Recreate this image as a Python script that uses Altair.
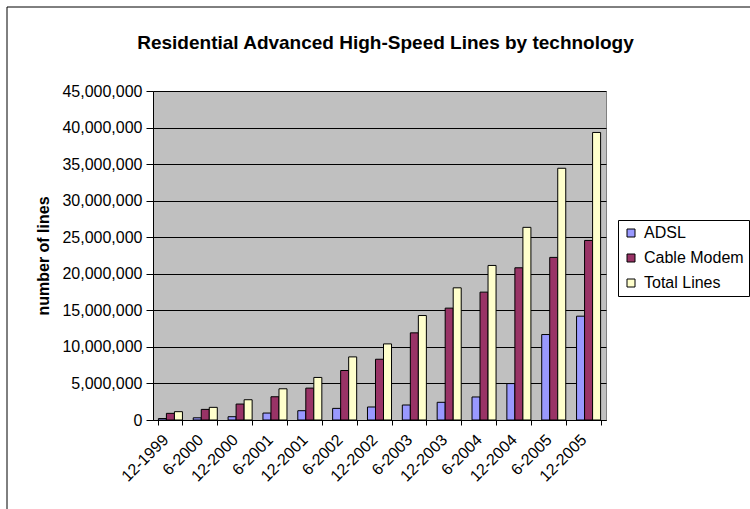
import altair as alt
import pandas as pd

periods = ["12-1999", "6-2000", "12-2000", "6-2001", "12-2001", "6-2002", "12-2002",
           "6-2003", "12-2003", "6-2004", "12-2004", "6-2005", "12-2005"]
series_names = ["ADSL", "Cable Modem", "Total Lines"]
adsl = [200000, 300000, 450000, 950000, 1270000, 1590000, 1780000,
        2050000, 2420000, 3150000, 4980000, 11690000, 14200000]
cable = [910000, 1450000, 2180000, 3180000, 4360000, 6770000, 8310000,
         11920000, 15300000, 17490000, 20820000, 22240000, 24560000]
total = [1140000, 1730000, 2770000, 4270000, 5820000, 8630000, 10410000,
         14290000, 18080000, 21140000, 26350000, 34430000, 39330000]
colors = ["#9999FF", "#993366", "#FFFFCC"]
y_ticks = [0, 5000000, 10000000, 15000000, 20000000, 25000000, 30000000,
           35000000, 40000000, 45000000]

rows = []
for name, vals in zip(series_names, [adsl, cable, total]):
    for p, v in zip(periods, vals):
        rows.append({"period": p, "series": name, "lines": v})
df = pd.DataFrame(rows)

FONT = "Liberation Sans"

bars = alt.Chart(df).mark_bar(stroke="black", strokeWidth=1).encode(
    x=alt.X("period:N", sort=periods,
            scale=alt.Scale(paddingInner=0.31, paddingOuter=0.155),
            axis=alt.Axis(title=None, labelAngle=-45, labelFontSize=16, labelFont=FONT,
                          labelColor="black", labelAlign="right", labelBaseline="middle",
                          tickBand="extent", tickSize=5, labelOffset=-5,
                          tickColor="black", domainColor="black", labelPadding=12,
                          grid=False)),
    xOffset=alt.XOffset("series:N", sort=series_names,
                        scale=alt.Scale(paddingInner=0, paddingOuter=0)),
    y=alt.Y("lines:Q", scale=alt.Scale(domain=[0, 45000000], nice=False),
            axis=alt.Axis(title="number of lines", values=y_ticks, format=",d",
                          labelFontSize=16, labelFont=FONT, labelColor="black",
                          titleFont=FONT, titleFontSize=16, titleFontWeight="bold",
                          titleColor="black", titlePadding=10,
                          tickSize=7, tickColor="black", domainColor="black",
                          labelPadding=4, gridColor="black", gridOpacity=1,
                          gridWidth=1)),
    color=alt.Color("series:N", sort=series_names,
                    scale=alt.Scale(domain=series_names, range=colors),
                    legend=alt.Legend(title=None, orient="none", legendX=465, legendY=129,
                                      symbolType="square", symbolSize=64,
                                      symbolStrokeColor="black", symbolStrokeWidth=1,
                                      labelFontSize=16, labelFont=FONT, labelColor="black",
                                      strokeColor="black", fillColor="white",
                                      padding=5, rowPadding=9, labelOffset=5,
                                      symbolOpacity=1)),
)

frame = alt.Chart(alt.Data(values=[{"a": 1}])).mark_rect(
    fill=None, stroke="black", strokeWidth=1
).encode(
    x=alt.value(-146), x2=alt.value(800), y=alt.value(-84), y2=alt.value(600)
)

chart = alt.layer(frame, bars).properties(
    width=453, height=329,
    title=alt.TitleParams("Residential Advanced High-Speed Lines by technology",
                          font=FONT, fontSize=19, fontWeight="bold", color="black",
                          anchor="middle", frame="group", baseline="alphabetic",
                          offset=-61.5, dx=6),
    autosize=alt.AutoSizeParams(type="none"),
    padding={"left": 153, "top": 91, "right": 144, "bottom": 89},
    background="white",
).configure_view(fill="#C0C0C0", stroke="#808080", strokeWidth=1)

chart.save("out.html", embed_options={"renderer": "svg", "actions": False})
